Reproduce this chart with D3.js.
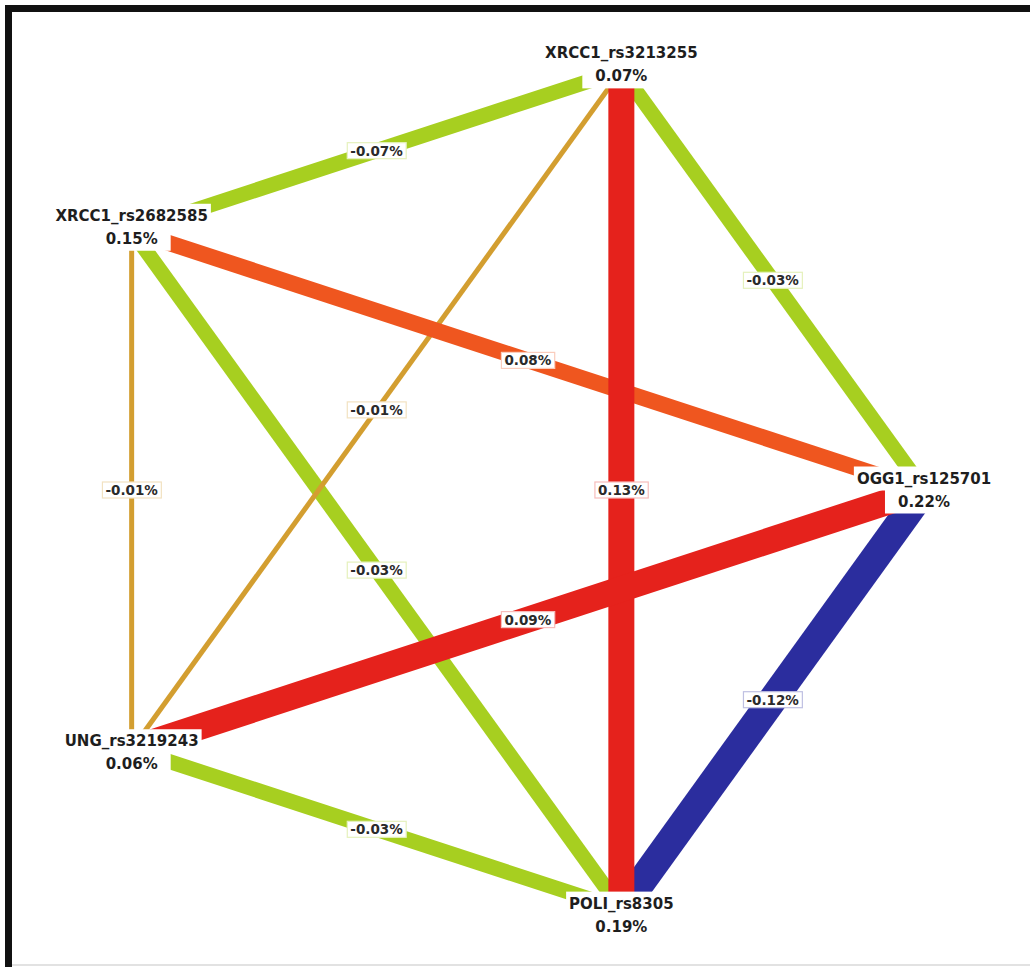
<!DOCTYPE html>
<html>
<head>
<meta charset="utf-8">
<script src="https://cdn.jsdelivr.net/npm/d3@7"></script>
<style>
  html, body { margin: 0; padding: 0; background: #ffffff; }
  svg { display: block; }
</style>
</head>
<body>
<svg id="chart" width="1030" height="967"></svg>
<script>
// Attributes, listed in their order around the circle (starting at the right, going counter-clockwise)
const nodeNames = ["OGG1_rs125701", "XRCC1_rs3213255", "XRCC1_rs2682585", "UNG_rs3219243", "POLI_rs8305"];
const nodeEntropy = [0.22, 0.07, 0.15, 0.06, 0.19];

// Pairwise interaction information (percent of entropy)
const edgeSource = [1, 1, 1, 1, 2, 2, 2, 0, 0, 3];
const edgeTarget = [2, 0, 3, 4, 0, 3, 4, 3, 4, 4];
const edgeValues = [-0.07, -0.03, -0.01, 0.13, 0.08, -0.01, -0.03, 0.09, -0.12, -0.03];

const svg = d3.select("#chart");
const W = 1030, H = 967;

// Frame
svg.append("rect")
  .attr("x", 8.5).attr("y", 8.5)
  .attr("width", 1200).attr("height", 1200)
  .attr("fill", "none").attr("stroke", "#111").attr("stroke-width", 7);
svg.append("line")
  .attr("x1", 12).attr("x2", W).attr("y1", 965).attr("y2", 965)
  .attr("stroke", "#d8d8d8").attr("stroke-width", 1.5);

// Circular layout: unit circle mapped onto the drawing area
const xCircle = d3.scaleLinear().domain([-1, 1]).range([486 - 438, 486 + 438]);
const yCircle = d3.scaleLinear().domain([-1, 1]).range([490 + 441, 490 - 441]);
const yLabel = d3.scaleLinear().domain([-1, 1]).range([490 + 447, 490 - 447]);

const angle = i => i * 2 * Math.PI / nodeNames.length;
const nodes = nodeNames.map((name, i) => ({
  name,
  entropy: nodeEntropy[i],
  x: xCircle(Math.cos(angle(i))),
  y: yCircle(Math.sin(angle(i))),
  ly: yLabel(Math.sin(angle(i)))
}));

const edges = edgeValues.map((v, i) => ({
  value: v,
  s: nodes[edgeSource[i]],
  t: nodes[edgeTarget[i]]
}));

// Interaction strength classes: strong redundancy .. strong synergy
const thresholds = [-0.1, -0.02, 0.02, 0.085];
const colorScale = d3.scaleThreshold().domain(thresholds)
  .range(["#2b2d9e", "#a7cf20", "#d39e30", "#ef561f", "#e5221c"]);
const widthScale = d3.scaleThreshold().domain(thresholds)
  .range([29, 15, 5, 16, 26]);

const fmt = v => v.toFixed(2) + "%";

// Edges, thinner ones underneath
const layer = v => (v === -0.01 ? 1 : Math.abs(v) < 0.05 ? 0 : v < 0 ? 2 : v < 0.085 ? 3 : 4);
const sorted = edges.slice().sort((a, b) => layer(a.value) - layer(b.value));
svg.append("g").selectAll("line").data(sorted).join("line")
  .attr("x1", d => d.s.x).attr("y1", d => d.s.y)
  .attr("x2", d => d.t.x).attr("y2", d => d.t.y)
  .attr("stroke", d => colorScale(d.value))
  .attr("stroke-width", d => widthScale(d.value))
  .attr("stroke-linecap", "butt");

// Edge labels at midpoints
const eg = svg.append("g").selectAll("g").data(edges).join("g")
  .attr("transform", d => `translate(${(d.s.x + d.t.x) / 2},${(d.s.y + d.t.y) / 2})`);
eg.append("rect");
eg.append("text")
  .attr("text-anchor", "middle")
  .attr("dominant-baseline", "central")
  .attr("font-family", "DejaVu Sans")
  .attr("font-weight", "bold")
  .attr("font-size", 13.5)
  .attr("fill", "#2a2a2a")
  .text(d => fmt(d.value));
eg.each(function(d) {
  const g = d3.select(this);
  const b = g.select("text").node().getBBox();
  g.select("rect")
    .attr("x", b.x - 3).attr("y", b.y)
    .attr("width", b.width + 6).attr("height", b.height)
    .attr("fill", "#ffffff")
    .attr("stroke", d3.interpolateRgb(colorScale(d.value), "#ffffff")(0.7))
    .attr("stroke-width", 1.2);
});

// Node labels: attribute name and its entropy, each on a white plate
const ng = svg.append("g").selectAll("g").data(nodes).join("g")
  .attr("transform", d => `translate(${d.x},${d.ly})`);
[["name", -11.5, 3, d => d.name], ["val", 11.5, 13, d => fmt(d.entropy)]].forEach(([cls, dy, padX, txt]) => {
  const g = ng.append("g").attr("class", cls);
  g.append("rect");
  g.append("text")
    .attr("y", dy)
    .attr("text-anchor", "middle")
    .attr("dominant-baseline", "central")
    .attr("font-family", "DejaVu Sans")
    .attr("font-weight", "bold")
    .attr("font-size", 15)
    .attr("fill", "#1e1e1e")
    .text(txt);
  g.each(function() {
    const gg = d3.select(this);
    const b = gg.select("text").node().getBBox();
    gg.select("rect")
      .attr("x", b.x - padX).attr("y", b.y - 3)
      .attr("width", b.width + 2 * padX).attr("height", b.height + 6)
      .attr("fill", "#ffffff");
  });
});
</script>
</body>
</html>
